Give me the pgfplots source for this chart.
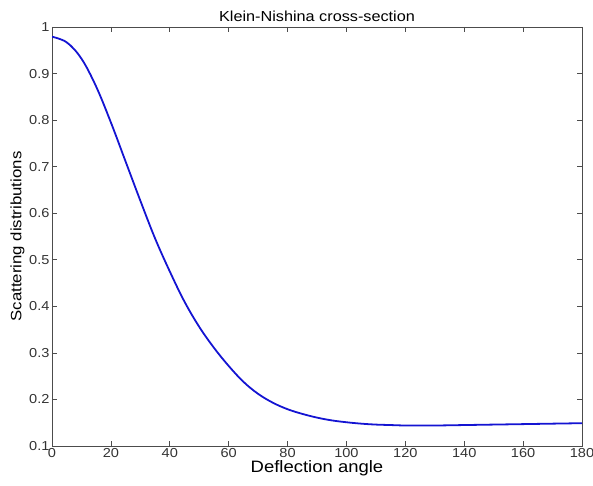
\documentclass[border=0pt]{standalone}
\usepackage{fontspec}
\setmainfont{Liberation Sans}[FakeStretch=1.12]
\usepackage{pgfplots}
\pgfplotsset{compat=1.18}
\begin{document}
\begin{tikzpicture}
\begin{axis}[
  name=ax,
  scale only axis,
  width=530bp, height=419bp,
  xmin=0, xmax=180, ymin=0.1, ymax=1,
  xtick={0,20,...,180},
  ytick={0.1,0.2,0.3,0.4,0.5,0.6,0.7,0.8,0.9,1},
  yticklabels={0.1,0.2,0.3,0.4,0.5,0.6,0.7,0.8,0.9,1},
  tick align=inside,
  major tick length=5bp,
  axis line style={black!70, line width=0.7pt},
  tick style={black!70, line width=0.6pt},
  tick label style={font=\fontsize{13bp}{15bp}\selectfont, text=black!80},
  xticklabel style={yshift=1bp},
  yticklabel style={xshift=1bp},
  /pgf/number format/assume math mode=true,
  title={Klein-Nishina cross-section},
  title style={font=\fontsize{14.5bp}{16bp}\selectfont, yshift=-4bp},
  xlabel={Deflection angle},
  xlabel style={font=\fontsize{16.5bp}{18bp}\selectfont, yshift=4bp},
  ylabel={Scattering distributions},
  ylabel style={font=\fontsize{15bp}{17bp}\selectfont, yshift=-2bp},
]
\addplot[color={rgb,255:red,20;green,20;blue,210}, line width=1.8pt, smooth, tension=0.6] coordinates {
(0,0.979) (5,0.967) (10,0.932) (15,0.872) (20,0.795) (25,0.711) (30,0.627)
(35,0.546) (40,0.475) (45,0.410) (50,0.356) (55,0.311) (60,0.272)
(65,0.238) (70,0.212) (75,0.193) (80,0.179) (85,0.169) (90,0.161)
(95,0.155) (100,0.151) (105,0.148) (110,0.146) (115,0.145) (120,0.144)
(125,0.144) (130,0.144) (140,0.145) (150,0.146) (160,0.147) (170,0.148) (180,0.149)
};
\end{axis}
\pgfresetboundingbox
\path[use as bounding box] (ax.south west) ++(-52bp,-40bp) rectangle ([xshift=11bp,yshift=27bp]ax.north east);
\end{tikzpicture}
\end{document}
